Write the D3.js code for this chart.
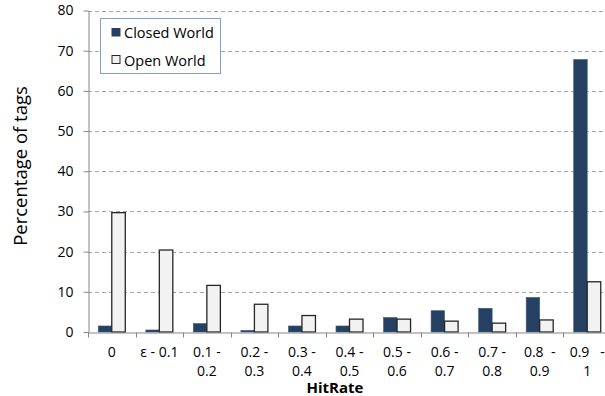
<!DOCTYPE html>
<html><head><meta charset="utf-8">
<script src="https://cdn.jsdelivr.net/npm/d3@7"></script>
<style>
html,body{margin:0;padding:0;background:#fff;}
svg{display:block;}
text{font-family:"Open Sans",sans-serif;fill:#000;}
</style></head>
<body>
<svg id="chart" width="605" height="396"></svg>
<script>
const categories = ["0","ε - 0.1","0.1 - 0.2","0.2 - 0.3","0.3 - 0.4","0.4 - 0.5","0.5 - 0.6","0.6 - 0.7","0.7 - 0.8","0.8 - 0.9","0.9 - 1"];
const labelLine1 = ["0","ε - 0.1","0.1 -","0.2 -","0.3 -","0.4 -","0.5 -","0.6 -","0.7 -","0.8  -","0.9   -"];
const labelLine2 = ["","","0.2","0.3","0.4","0.5","0.6","0.7","0.8","0.9","1"];
const seriesNames = ["Closed World","Open World"];
const closedWorld = [1.5,0.5,2.1,0.4,1.5,1.5,3.6,5.3,5.9,8.6,67.8];
const openWorld = [29.7,20.4,11.6,6.9,4.1,3.2,3.2,2.7,2.2,3.0,12.5];
const yTicks = [0,10,20,30,40,50,60,70,80];

const svg = d3.select("#chart");
const mLeft = 88, mRight = 611, mTop = 10.5, mBottom = 332;

const x = d3.scaleBand().domain(categories).range([mLeft, mRight]).padding(0);
const x1 = d3.scaleBand().domain(seriesNames).range([0, x.bandwidth()]).paddingInner(0).paddingOuter(0.76);
const y = d3.scaleLinear().domain([0, 80]).range([mBottom, mTop]);

// grid
svg.append("g").selectAll("line").data(yTicks.filter(d => d > 0)).join("line")
  .attr("x1", mLeft).attr("x2", mRight)
  .attr("y1", d => Math.round(y(d)) + 0.5).attr("y2", d => Math.round(y(d)) + 0.5)
  .attr("stroke", "#a6a6a6").attr("stroke-width", 1).attr("stroke-dasharray", "4,3");

// bars
const colors = {"Closed World": "#254061", "Open World": "#f2f2f2"};
const rows = categories.map((c, i) => ({cat: c, vals: [
  {s: "Closed World", v: closedWorld[i]}, {s: "Open World", v: openWorld[i]}]}));
const g = svg.append("g").selectAll("g").data(rows).join("g")
  .attr("transform", d => `translate(${x(d.cat)},0)`);
g.selectAll("rect").data(d => d.vals).join("rect")
  .attr("x", d => x1(d.s)).attr("width", x1.bandwidth())
  .attr("y", d => y(d.v)).attr("height", d => y(0) - y(d.v))
  .attr("fill", d => colors[d.s])
  .attr("stroke", d => d.s === "Open World" ? "#262626" : "#3d5a80")
  .attr("stroke-width", d => d.s === "Open World" ? 1.3 : 0.6);

// y axis
const yAxis = svg.append("g").attr("transform", `translate(${mLeft + 0.5},0)`)
  .call(d3.axisLeft(y).tickValues(yTicks).tickSize(5).tickPadding(10).tickSizeOuter(0));
yAxis.select(".domain").attr("stroke", "#868686");
yAxis.selectAll(".tick line").attr("stroke", "#868686");
yAxis.selectAll(".tick text").style("font-size", "14px").style("font-family", '"Open Sans",sans-serif').attr("fill", "#000");

// x axis
const xAxis = svg.append("g").attr("transform", `translate(0,${mBottom + 0.5})`)
  .call(d3.axisBottom(x).tickSize(0).tickSizeOuter(0).tickFormat(() => ""));
xAxis.select(".domain").attr("stroke", "#868686");
const bounds = categories.map(c => x(c)).concat([mRight]);
xAxis.append("g").selectAll("line").data(bounds).join("line")
  .attr("x1", d => Math.round(d) + 0.5).attr("x2", d => Math.round(d) + 0.5)
  .attr("y1", 0).attr("y2", 5).attr("stroke", "#868686");
const lab = xAxis.append("g").selectAll("text").data(categories).join("text")
  .attr("x", d => x(d) + x.bandwidth() / 2)
  .attr("text-anchor", "middle")
  .style("font-size", "14px").style("white-space", "pre");
lab.append("tspan").attr("x", d => x(d) + x.bandwidth() / 2).attr("y", 24.5)
  .text((d, i) => labelLine1[i]);
lab.append("tspan").attr("x", d => x(d) + x.bandwidth() / 2).attr("y", 43.5)
  .text((d, i) => labelLine2[i]);

// axis titles
svg.append("text").attr("x", 335).attr("y", 393).attr("text-anchor", "middle")
  .style("font-size", "15px").style("font-weight", "bold").text("HitRate");
svg.append("text").attr("transform", "translate(27,166) rotate(-90)").attr("text-anchor", "middle")
  .style("font-size", "18.5px").text("Percentage of tags");

// legend
const lg = svg.append("g");
lg.append("rect").attr("x", 100.5).attr("y", 18.5).attr("width", 120).attr("height", 55)
  .attr("fill", "#fff").attr("stroke", "#7f9fcf").attr("stroke-width", 1);
const items = lg.selectAll("g.item").data(seriesNames).join("g").attr("class", "item")
  .attr("transform", (d, i) => `translate(0,${i * 28})`);
items.append("rect").attr("x", d => d === "Open World" ? 112 : 111.5).attr("y", d => d === "Open World" ? 55.5 - 28 : 28)
  .attr("width", d => d === "Open World" ? 8 : 9).attr("height", d => d === "Open World" ? 8 : 8.5)
  .attr("fill", d => colors[d]).attr("stroke", d => d === "Open World" ? "#262626" : "none").attr("stroke-width", 1);
items.append("text").attr("x", 124).attr("y", 37.5).style("font-size", "14.5px").text(d => d);
</script>
</body></html>
